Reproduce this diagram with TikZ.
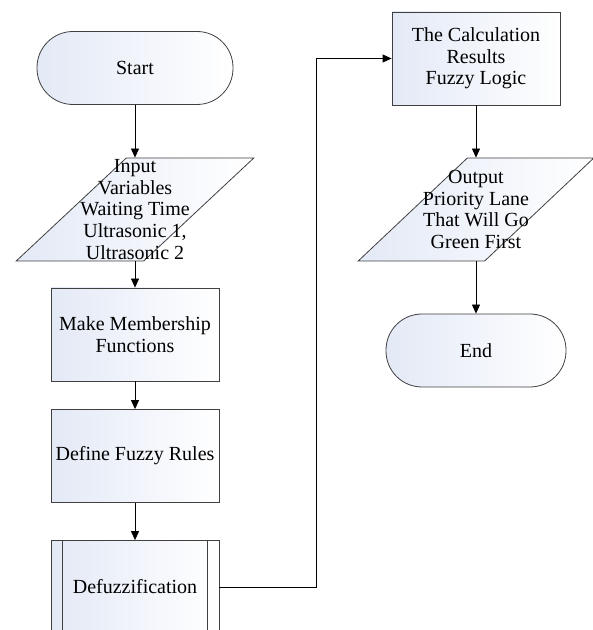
\documentclass[tikz,border=0pt]{standalone}
\usepackage{fontspec}
\setmainfont{Liberation Serif}
\usepackage{xcolor}
\usetikzlibrary{arrows.meta, shapes.geometric, positioning}

\definecolor{boxblue}{HTML}{E3E9F6}
\definecolor{boxline}{HTML}{404040}

\tikzset{
    box/.style={draw=boxline, line width=0.8pt, left color=boxblue, right color=white, align=center},
    term/.style={box, rectangle, rounded corners=36pt, minimum height=73pt},
    proc/.style={box, rectangle, minimum width=168pt, minimum height=93pt, inner sep=2pt},
    io/.style={box, trapezium, trapezium left angle=62, trapezium right angle=118, trapezium stretches=true, minimum width=238pt, minimum height=103pt, inner sep=1pt},
    flow/.style={-{Triangle[length=9pt, width=8pt]}, line width=0.8pt}
}

\begin{document}
\begin{tikzpicture}[x=1pt, y=1pt, font=\fontsize{20}{21.7}\selectfont]
    \useasboundingbox (0, 0) rectangle (593, 630);

    \node[term, minimum width=196pt] (st) at (135, 562) {Start};
    \node[io, label={[align=center]center:Input\\Variables\\Waiting Time\\Ultrasonic 1,\\Ultrasonic 2}] (in) at (135, 420.5) {\strut};
    \node[proc] (mf) at (135, 295.5) {Make Membership\\Functions};
    \node[proc] (fr) at (135, 174) {Define Fuzzy Rules};
    \node[proc] (df) at (135, 43) {Defuzzification};
    \draw[boxline, line width=0.8pt]
    ([xshift=12pt]df.north west) -- ([xshift=12pt]df.south west)
    ([xshift=-12pt]df.north east) -- ([xshift=-12pt]df.south east);

    \node[proc] (cr) at (476, 571.5) {The Calculation\\Results\\Fuzzy Logic};
    \node[io, minimum width=236pt, label={[align=center]center:Output\\Priority Lane\\That Will Go\\Green First}] (out) at (476, 420.5) {\strut};
    \node[term, minimum width=180pt] (en) at (476, 279.5) {End};

    \coordinate (turn) at (316, 43);

    \draw
    (st) edge[flow] (in)
    (in) edge[flow] (mf)
    (mf) edge[flow] (fr)
    (fr) edge[flow] (df)
    (cr) edge[flow] (out)
    (out) edge[flow] (en);
    \draw[flow] (df.east) -- (turn) |- (cr.west);
\end{tikzpicture}
\end{document}
